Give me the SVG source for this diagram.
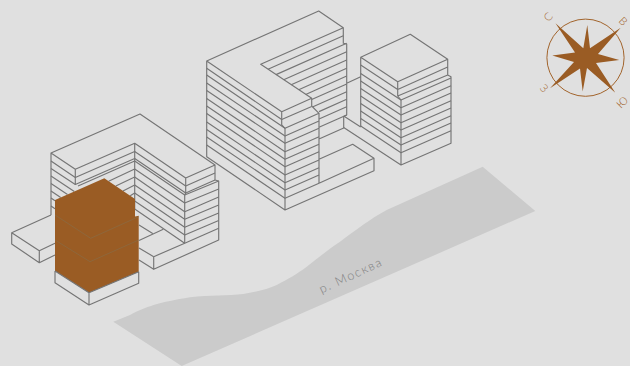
<svg xmlns="http://www.w3.org/2000/svg" width="630" height="366" viewBox="0 0 630 366">
<style>
.l{fill:none;stroke:#757575;stroke-width:1.15;stroke-linejoin:round}
.t{fill:none;stroke:#85704f;stroke-width:.55}
.c{font-family:"Lato","Liberation Sans",sans-serif;font-size:11px;font-weight:300;fill:#a2642c;text-anchor:middle}
</style>
<rect width="630" height="366" fill="#e0e0e0"/>
<g id="river">
<path d="M113.3 321.7L130 315C145 307 160 302 190 297.3C210 295 228 296 243.3 294C256 292 268 289 276.7 285C288 279 297 274 306.7 266.7C318 258 329 249 340 241.7C356 230 370 219 386.7 210L482.7 166.7L535.3 211L181.7 366Z" fill="#cbcbcb"/>
<text transform="translate(321.5 293.5) rotate(-24.7)" font-family="Lato,'Liberation Sans',sans-serif" font-size="12.5" font-weight="300" letter-spacing="1.45" fill="#7f7f7f">р. Москва</text>
</g>
<g id="building-right" class="l">
<path class="l" d="M360.7 57.3L410.3 34.3L447.7 59.3L397.7 81.7ZM360.7 57.3V126.7M397.7 81.7V96L401 100V165L451 143.3V76.7L447.7 75V59.3M397.7 89.5L447.7 67M397.7 96L447.7 75M343.7 127.5L401 165M343.7 116L360.7 127"/>
<path class="l" d="M360.7 65L397.7 89.5M360.7 73.4L401 100L451 78M360.7 81L401 107.7L451 85.7M360.7 88.4L401 115L451 93M360.7 96L401 122.7L451 100.7M360.7 103.4L401 130L451 108M360.7 111L401 137.7L451 115.7M360.7 118.4L401 145L451 123M360.7 126L401 152.7L451 130.7"/>
</g>
<g id="building-center">
<path class="l" d="M206.7 61L318.7 11L343.3 27.7L260.7 64.3L311.7 98.3L281.7 111.7ZM206.7 61V156.7L285 210L374 170.7V158.3L352.7 144.3L319 159.3M285 210V128.3L281.7 125V111.7M374 158.3L319 183.3M343.3 27.7V43.3L346.7 44V115L343.7 116.5V128L319 139M311.7 98.3V106L319 113.3V183.3M346.7 83.3L360.7 76.7"/>
<path class="l" d="M206.7 68.3L281.7 119.5L311.7 106.5M206.7 75L285 128.3L319 113.3M206.7 83L285 136L319 121M206.7 90.5L285 143.3L319 128.3M206.7 98.5L285 151.7L319 136.7M206.7 106L285 159.3L319 144.3M206.7 113.5L285 166.7L319 151.7M206.7 122L285 175L319 160M206.7 129.5L285 182.7L319 167.7M206.7 137L285 190L319 175M206.7 145L285 198.3L319 183.3"/>
<path class="l" d="M343.3 35.7L268 69.3M346.7 43.3L276 74.6M346.7 51.7L283.7 79.7M346.7 60L291.2 84.7M346.7 68.3L298.7 89.7M346.7 76L305.7 94.4M346.7 84L311.7 99.5M346.7 91.7L313 106.7M346.7 99.3L319 111.6M346.7 106.7L319 119M346.7 115L319 127.3"/>
</g>
<g id="building-left">
<path class="l" d="M51 153L140 114L215 165L185.7 178L134.7 143.3L75.3 169.3ZM51 153V215M75.3 169.3V184.5M134.7 143.3V209M185.7 178V193L184.7 195V243.3M215 165V180L218.7 181V240L153.7 269.3V256.7L184.7 243.3"/>
<path class="l" d="M51 161L75.3 177.5L134.7 151.5M51 168.5L75.3 184.5L134.7 158.5M51 176L74.3 191.5M51 183.5L67.5 194.5M51 191L60.7 197.5M51 198L55 200.7M51 206L55 208.7"/>
<path class="l" d="M134.7 161L78 186M134.7 169L108.6 181.2M134.7 177L115.8 186M134.7 185L123 191M134.7 193L130.2 195.8"/>
<path class="l" d="M134.7 151.5L185.7 186L215 173M134.7 158.5L185.7 193L215 180M134.7 161L184.7 195L218.7 181M134.7 169L184.7 203L218.7 189M134.7 177L184.7 211.7L218.7 197M134.7 185L184.7 219.3L218.7 205M134.7 193L184.7 227.3L218.7 213M134.7 201L184.7 235L218.7 220.5M134.7 209L184.7 243.3L218.7 228.3"/>
<path class="l" d="M139 225L152.7 233.5M139 240.5L163.3 229.3M139 248L153.7 256.7M139 260L153.7 269.3"/>
<path class="l" d="M51 215L11.7 232.7V244L39.3 262.7V250.7L11.7 232.7M39.3 250.7L55 243.3M39.3 262.7L55 255"/>
</g>
<g id="building-highlight">
<path d="M55 200L104.3 178.3L135 199V216.5L138.7 215.7V271.7L89 292.7L55 271Z" fill="#9a5c24"/>
<path class="t" d="M55 215L90.7 238.3L138.7 216.7M55 240L90 261.7L138.7 240"/>
<path class="l" d="M55 271V282.7L89 305L138.7 283.3V271.7M55 271L89 292.7L138.7 271.7M89 292.7V305"/>
</g>
<g id="compass">
<circle cx="585.5" cy="57.7" r="38.6" fill="none" stroke="#a2642c" stroke-width="1"/>
<path d="M555.5 23.3L583.3 48.3L587.3 25L590 48.3L620.7 27.7L598 54L619.3 60L596 63L615.3 92.7L587 68L582.7 91.5L580 68.5L550 88.3L574 62L552.3 55.5L575 52.5Z" fill="#9a5c24"/>
<text class="c" transform="translate(551 19.5) rotate(-45)">С</text>
<text class="c" transform="translate(620.5 24) rotate(45)">В</text>
<text class="c" transform="translate(625 105) rotate(-45)">Ю</text>
<text class="c" transform="translate(541.5 91) rotate(45)">З</text>
</g>
</svg>
